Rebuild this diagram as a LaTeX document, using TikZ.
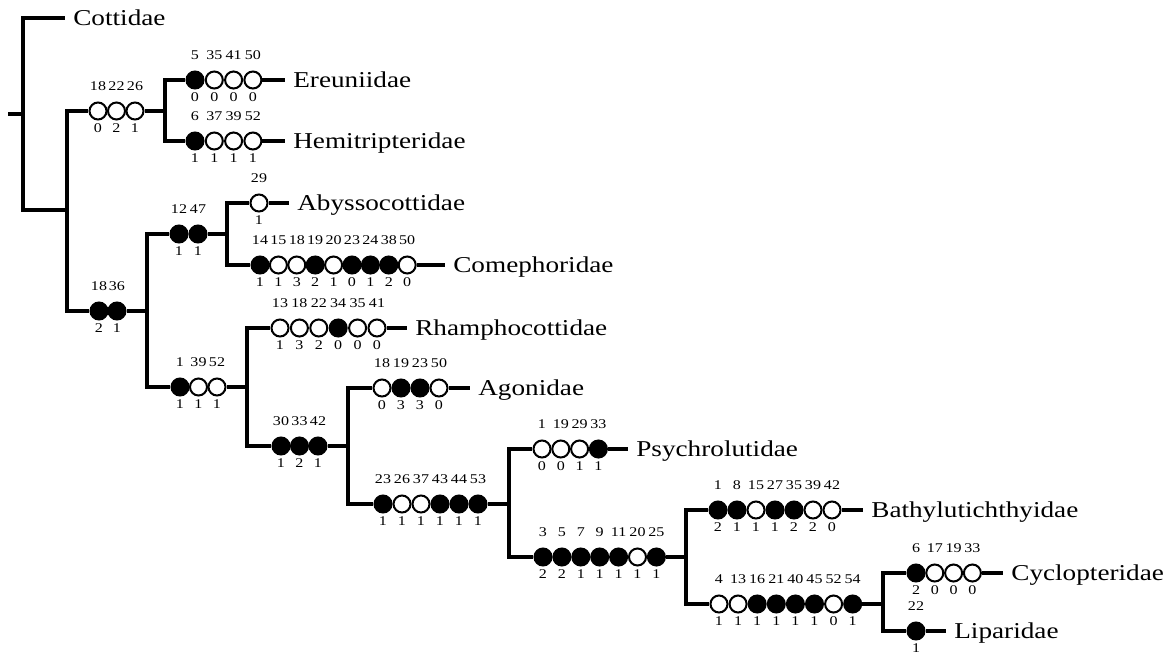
\documentclass[tikz,border=0pt]{standalone}
\usepackage{fontspec}
\setmainfont[FakeStretch=1.2]{Liberation Serif}
\tikzset{
  br/.style    ={line width=1.9pt},
  chr/.style   ={circle,draw,line width=1.15pt,minimum size=3.4mm,inner sep=0pt},
  uniq/.style  ={chr,fill=black},
  homo/.style  ={chr,fill=white},
  num/.style   ={font=\fontsize{7.6}{9}\selectfont,inner sep=0pt,text height=5.1pt,text depth=0pt},
  taxon/.style ={font=\fontsize{12.9}{15}\selectfont,anchor=west,inner xsep=1.6mm,inner ysep=0pt,
                 text height=8.5pt,text depth=0pt},
}
% one row of characters: name, first x, step, y, {state/character/value,...}
\newcommand{\charrow}[5]{%
  \foreach \st/\up/\dn [count=\k] in {#5}
    \node[\st,label={[num,label distance=2.2mm]above:\up},
          label={[num,label distance=0.6mm]below:\dn}] (#1\k) at ({#2+(\k-1)*#3},#4) {};
}

\begin{document}
\begin{tikzpicture}[x=0.2mm,y=-0.2mm]
  \useasboundingbox (0,0) rectangle (1170,656);
  % taxa
  \node[taxon] (cot) at (65,18)   {Cottidae};
  \node[taxon] (ere) at (285,80)  {Ereuniidae};
  \node[taxon] (hem) at (285,141) {Hemitripteridae};
  \node[taxon] (aby) at (289,203) {Abyssocottidae};
  \node[taxon] (com) at (445,265) {Comephoridae};
  \node[taxon] (rha) at (407,328) {Rhamphocottidae};
  \node[taxon] (ago) at (470,388) {Agonidae};
  \node[taxon] (psy) at (628,449) {Psychrolutidae};
  \node[taxon] (bat) at (863,510) {Bathylutichthyidae};
  \node[taxon] (cyc) at (1003,573) {Cyclopteridae};
  \node[taxon] (lip) at (946,631) {Liparidae};
  % characters
  \charrow{ab}{98}{18.5}{111}{homo/18/0,homo/22/2,homo/26/1}
  \charrow{er}{195}{19.3}{80}{uniq/5/0,homo/35/0,homo/41/0,homo/50/0}
  \charrow{he}{195}{19.3}{141}{uniq/6/1,homo/37/1,homo/39/1,homo/52/1}
  \charrow{cd}{99}{18}{311}{uniq/18/2,uniq/36/1}
  \charrow{ef}{179}{19}{234}{uniq/12/1,uniq/47/1}
  \charrow{ab-y}{259}{0}{203}{homo/29/1}
  \charrow{co}{260}{18.4}{265}{uniq/14/1,homo/15/1,homo/18/3,uniq/19/2,homo/20/1,uniq/23/0,uniq/24/1,uniq/38/2,homo/50/0}
  \charrow{gh}{180}{18.5}{387}{uniq/1/1,homo/39/1,homo/52/1}
  \charrow{rh}{280}{19.4}{328}{homo/13/1,homo/18/3,homo/22/2,uniq/34/0,homo/35/0,homo/41/0}
  \charrow{ij}{281}{18.5}{446}{uniq/30/1,uniq/33/2,uniq/42/1}
  \charrow{ag}{382}{19}{388}{homo/18/0,uniq/19/3,uniq/23/3,homo/50/0}
  \charrow{kl}{383}{19}{504}{uniq/23/1,homo/26/1,homo/37/1,uniq/43/1,uniq/44/1,uniq/53/1}
  \charrow{ps}{542}{18.8}{449}{homo/1/0,homo/19/0,homo/29/1,uniq/33/1}
  \charrow{mn}{543}{18.9}{557}{uniq/3/2,uniq/5/2,uniq/7/1,uniq/9/1,uniq/11/1,homo/20/1,uniq/25/1}
  \charrow{ba}{718}{19}{510}{uniq/1/2,uniq/8/1,homo/15/1,uniq/27/1,uniq/35/2,homo/39/2,homo/42/0}
  \charrow{op}{719}{19.1}{604}{homo/4/1,homo/13/1,uniq/16/1,uniq/21/1,uniq/40/1,uniq/45/1,homo/52/0,uniq/54/1}
  \charrow{cy}{916}{18.8}{573}{uniq/6/2,homo/17/0,homo/19/0,homo/33/0}
  \charrow{li}{916}{0}{631}{uniq/22/1}
  % junctions
  \coordinate (r0) at (8,114);
  \coordinate (j0) at (23,114);
  \coordinate (j1) at (67,210);
  \coordinate (j2) at (165,111);
  \coordinate (j3) at (147,311);
  \coordinate (j4) at (227,234);
  \coordinate (j5) at (247,387);
  \coordinate (j6) at (348,446);
  \coordinate (j7) at (509,504);
  \coordinate (j8) at (686,557);
  \coordinate (j9) at (883,604);
  % branches
  \draw[br] (r0) -- (j0);
  \draw[br] (j0) |- (cot);
  \draw[br] (j0) |- (j1);
  \draw[br] (j1) |- (ab1);  \draw[br] (ab3) -- (j2);
  \draw[br] (j1) |- (cd1);  \draw[br] (cd2) -- (j3);
  \draw[br] (j2) |- (er1);  \draw[br] (er4) -- (ere);
  \draw[br] (j2) |- (he1);  \draw[br] (he4) -- (hem);
  \draw[br] (j3) |- (ef1);  \draw[br] (ef2) -- (j4);
  \draw[br] (j3) |- (gh1);  \draw[br] (gh3) -- (j5);
  \draw[br] (j4) |- (ab-y1); \draw[br] (ab-y1) -- (aby);
  \draw[br] (j4) |- (co1);  \draw[br] (co9) -- (com);
  \draw[br] (j5) |- (rh1);  \draw[br] (rh6) -- (rha);
  \draw[br] (j5) |- (ij1);  \draw[br] (ij3) -- (j6);
  \draw[br] (j6) |- (ag1);  \draw[br] (ag4) -- (ago);
  \draw[br] (j6) |- (kl1);  \draw[br] (kl6) -- (j7);
  \draw[br] (j7) |- (ps1);  \draw[br] (ps4) -- (psy);
  \draw[br] (j7) |- (mn1);  \draw[br] (mn7) -- (j8);
  \draw[br] (j8) |- (ba1);  \draw[br] (ba7) -- (bat);
  \draw[br] (j8) |- (op1);  \draw[br] (op8) -- (j9);
  \draw[br] (j9) |- (cy1);  \draw[br] (cy4) -- (cyc);
  \draw[br] (j9) |- (li1);  \draw[br] (li1) -- (lip);
\end{tikzpicture}
\end{document}
